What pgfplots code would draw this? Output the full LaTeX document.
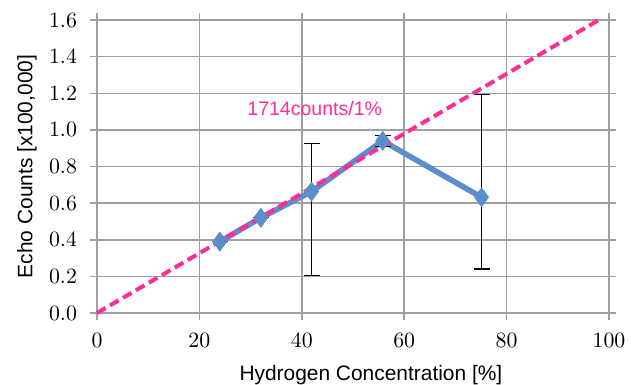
\documentclass[border=0pt]{standalone}
\usepackage{pgfplots}
\pgfplotsset{compat=1.18}
\usepackage{fontspec}
\setmainfont{Liberation Sans}
\definecolor{pinkl}{HTML}{FF2D96}
\definecolor{bluel}{HTML}{5B8FCC}
\definecolor{gridg}{HTML}{A0A0A0}
\begin{document}
\begin{tikzpicture}
\begin{axis}[
  name=ax,
  at={(0,0)}, anchor=south west,
  scale only axis,
  width=256bp, height=146.5bp,
  xmin=0, xmax=100, ymin=0, ymax=1.6,
  xtick={0,20,...,100},
  ytick={0,0.2,...,1.6},
  yticklabel style={/pgf/number format/fixed,/pgf/number format/fixed zerofill,/pgf/number format/precision=1},
  grid=major,
  grid style={gridg, line width=0.75bp},
  axis line style={gridg, line width=0.75bp},
  tick style={gridg, line width=0.75bp},
  tick align=outside,
  major tick length=3.5bp,
  every tick label/.append style={font=\fontsize{10.5}{12}\selectfont},
  xticklabel style={yshift=-3bp},
  yticklabel style={xshift=-3bp},
  label style={font=\fontsize{10.5}{12}\selectfont},
  xlabel={Hydrogen Concentration [\%]},
  xlabel style={at={(axis description cs:0.535,-0.2287)}, anchor=base},
  ylabel={Echo Counts [x100,000]},
  ylabel style={at={(axis description cs:-0.137,0.5)}, anchor=center},
  clip=false,
]
\addplot[bluel, line width=2.8bp, mark=diamond*, mark size=4.6bp, mark options={fill=bluel, draw=bluel, line width=0.5bp},
  error bars/.cd, y dir=both, y explicit,
  error bar style={black, line width=0.6bp},
  error mark options={rotate=90, mark size=4bp, black, line width=0.6bp}]
coordinates {
  (24.0,0.39) += (0,0) -= (0,0)
  (32.0,0.52) += (0,0) -= (0,0)
  (41.9,0.663) += (0,0.262) -= (0,0.458)
  (55.8,0.94) += (0,0.03) -= (0,0.03)
  (75.1,0.632) += (0,0.562) -= (0,0.392)
};
\addplot[pinkl, line width=2bp, dash pattern=on 5bp off 2.5bp] coordinates {(0,0) (98,1.6)};
\node[pinkl, anchor=base west, inner sep=0pt, font=\fontsize{9.8}{11}\selectfont] at (axis cs:29.3,1.08) {1714counts/1\%};
\end{axis}
\pgfresetboundingbox
\path[use as bounding box] (-48.5bp,-36bp) rectangle (267bp,156.5bp);
\end{tikzpicture}
\end{document}
